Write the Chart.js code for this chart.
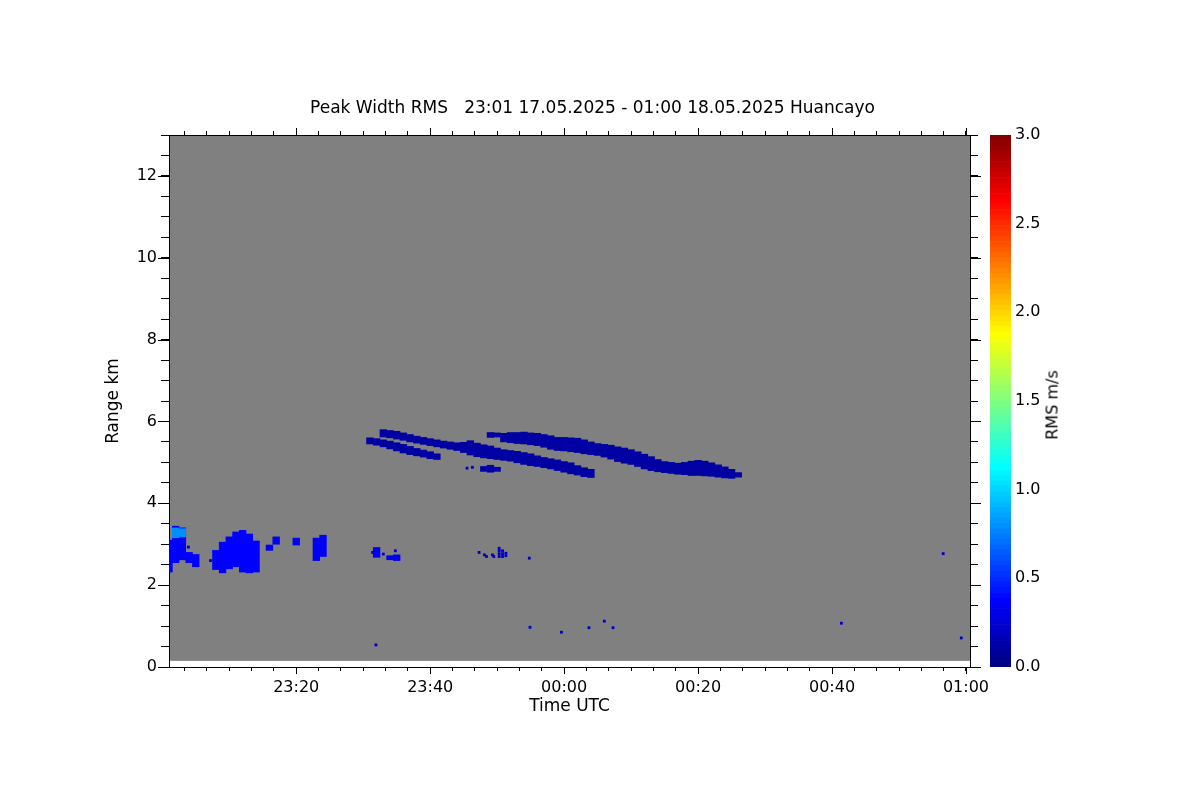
<!DOCTYPE html>
<html>
<head>
<meta charset="utf-8">
<script src="https://cdn.jsdelivr.net/npm/chart.js@4.4.1/dist/chart.umd.min.js"></script>
<style>
html,body{margin:0;padding:0;background:#fff;}
#wrap{position:relative;width:1200px;height:800px;overflow:hidden;}
#wrap canvas{position:absolute;left:0;top:0;}
#cbTitle{position:absolute;left:1052px;top:405px;transform:translate(-50%,-50%) rotate(-90deg);font:16px "DejaVu Sans",sans-serif;white-space:nowrap;color:#000;}
</style>
</head>
<body>
<div id="wrap">
  <canvas id="main" width="1200" height="800"></canvas>
  <canvas id="cbar" width="1200" height="800"></canvas>
  <div id="cbTitle">RMS m/s</div>
</div>
<script>
// ---------------- text & ticks ----------------
const titleText = 'Peak Width RMS   23:01 17.05.2025 - 01:00 18.05.2025 Huancayo';
const xTitle = 'Time UTC';
const yTitle = 'Range km';
const timeTickMinutes = [20, 40, 60, 80, 100, 120];          // minutes after 23:00 UTC
const timeTickLabels  = ['23:20', '23:40', '00:00', '00:20', '00:40', '01:00'];
const rangeTickKm     = [0, 2, 4, 6, 8, 10, 12];
const rangeTickLabels = ['0', '2', '4', '6', '8', '10', '12'];
const rmsTickValues   = [0, 0.5, 1, 1.5, 2, 2.5, 3];
const rmsTickLabels   = ['0.0', '0.5', '1.0', '1.5', '2.0', '2.5', '3.0'];

// extent of the measured area (minutes after 23:00, km)
const dataStartMin = 1, dataEndMin = 120.6;
const rangeBottomKm = 0.15, rangeTopKm = 13;

// ---------------- echoes: [minute after 23:00 UTC, bottom km, top km] ----------------
const echoF = [[1,2.32,3.10],[2,2.55,3.44],[3,2.62,3.40],[4,2.55,2.80],[5,2.45,2.75]];
const echoFcore = [[2,3.16,3.40],[3,3.18,3.38]];
const echoG = [[8,2.38,2.85],[9,2.30,3.05],[10,2.40,3.18],[11,2.45,3.30],[12,2.32,3.34],[13,2.30,3.25],[14,2.32,3.08]];
const echoLowSmall = [[16,2.85,2.98],[17,3.00,3.18],[20,2.98,3.15],[23,2.60,3.15],[24,2.70,3.22],[32,2.68,2.92],[34,2.62,2.72],[35,2.60,2.74]];
const streakUpper = [[33,5.62,5.80],[34,5.60,5.78],[35,5.57,5.76],[36,5.54,5.72],[37,5.50,5.68],[38,5.47,5.64],
  [39,5.44,5.61],[40,5.41,5.58],[41,5.38,5.55],[42,5.35,5.52],[43,5.32,5.50],[44,5.29,5.48],[45,5.24,5.49],
  [46,5.18,5.53],[47,5.14,5.47],[48,5.11,5.43],[49,5.09,5.40],[50,5.07,5.35],[51,5.05,5.31],[52,5.03,5.29],
  [53,4.99,5.27],[54,4.95,5.24],[55,4.92,5.21],[56,4.90,5.16],[57,4.87,5.12],[58,4.84,5.09],[59,4.80,5.06],
  [60,4.76,5.02],[61,4.72,4.99],[62,4.69,4.92],[63,4.65,4.87],[64,4.63,4.83]];
const streakLower = [[31,5.45,5.60],[32,5.42,5.58],[33,5.38,5.55],[34,5.33,5.52],[35,5.28,5.48],[36,5.23,5.44],
  [37,5.19,5.39],[38,5.16,5.34],[39,5.13,5.30],[40,5.09,5.26],[41,5.07,5.21]];
const streakLong = [[49,5.61,5.73],[50,5.62,5.72],[51,5.50,5.71],[52,5.48,5.73],[53,5.46,5.73],[54,5.45,5.74],
  [55,5.43,5.72],[56,5.41,5.71],[57,5.37,5.68],[58,5.32,5.65],[59,5.29,5.61],[60,5.28,5.61],[61,5.26,5.60],
  [62,5.24,5.59],[63,5.21,5.55],[64,5.19,5.50],[65,5.17,5.46],[66,5.13,5.44],[67,5.08,5.42],[68,5.02,5.38],
  [69,4.98,5.35],[70,4.95,5.31],[71,4.90,5.26],[72,4.84,5.20],[73,4.80,5.14],[74,4.77,5.07],[75,4.75,5.02],
  [76,4.73,5.00],[77,4.71,4.98],[78,4.70,5.00],[79,4.68,5.03],[80,4.68,5.05],[81,4.67,5.03],[82,4.66,4.99],
  [83,4.64,4.94],[84,4.62,4.89],[85,4.61,4.83],[86,4.64,4.75]];
const echoE = [[48,4.78,4.90],[49,4.76,4.93],[50,4.78,4.88]];
// isolated speckles: [minute, km]
const speckles = [[3.9,2.93],[7.2,2.60],[31.4,2.80],[33.0,2.76],[34.8,2.84],[45.5,4.86],[46.3,4.88],
  [47.3,2.80],[48.1,2.74],[48.4,2.70],[49.3,2.74],[49.5,2.70],[50.3,2.70],[50.3,2.77],[50.3,2.84],[50.3,2.90],
  [50.8,2.70],[50.8,2.77],[50.8,2.84],[51.3,2.72],[51.3,2.78],[54.8,2.66],[31.9,0.54],[54.9,0.97],[59.6,0.85],
  [63.7,0.96],[66.0,1.12],[67.3,0.96],[101.4,1.07],[116.6,2.77],[119.3,0.71]];

// RMS values (m/s) of each feature
const rmsF = 0.36, rmsFcore = 0.80, rmsG = 0.36, rmsLowSmall = 0.34;
const rmsStreaks = 0.10, rmsE = 0.12, rmsSpeckles = 0.18;

// ---------------- colour map (jet, 100 levels over 0..3 m/s) ----------------
const rmsMin = 0, rmsMax = 3, nLevels = 100;
function jet(t) {
  const c = v => Math.max(0, Math.min(1, v));
  const r = c(Math.min(4*t - 1.5, -4*t + 4.5));
  const g = c(Math.min(4*t - 0.5, -4*t + 3.5));
  const b = c(Math.min(4*t + 0.5, -4*t + 2.5));
  return `rgb(${Math.round(r*255)},${Math.round(g*255)},${Math.round(b*255)})`;
}
function rmsColor(v) {
  const lvl = Math.max(0, Math.min(nLevels - 1, Math.floor((v - rmsMin) / (rmsMax - rmsMin) * nLevels)));
  return jet((lvl + 0.5) / nLevels);
}

Chart.defaults.font.family = '"DejaVu Sans", sans-serif';
Chart.defaults.color = '#000';

function barSet(label, cols, rms, order) {
  return {
    type: 'bar', label, order,
    data: cols.map(c => ({x: c[0], y: [c[1], c[2]]})),
    backgroundColor: rmsColor(rms), borderWidth: 0,
    grouped: false, barPercentage: 1, categoryPercentage: 1
  };
}

const xMinorTicks = [];
for (let k = 1; k <= 36; k++) xMinorTicks.push(k * 10 / 3);

function timeLabel(v) {
  const i = timeTickMinutes.findIndex(m => Math.abs(m - v) < 1e-6);
  return i >= 0 ? timeTickLabels[i] : '';
}
function rangeLabel(v) {
  const i = rangeTickKm.findIndex(m => Math.abs(m - v) < 1e-6);
  return i >= 0 ? rangeTickLabels[i] : '';
}

const grid = {drawOnChartArea: false, color: '#000', tickColor: '#000', lineWidth: 1};
const border = {display: true, color: '#000', width: 1};
const xMinorLen = 4, xMajorLen = 7, yMinorLen = 8, yMajorLen = 11;

const backgroundPlugin = {
  id: 'measuredArea',
  beforeDraw(chart) {
    const {ctx, scales: {x, y}} = chart;
    const l = x.getPixelForValue(dataStartMin), r = x.getPixelForValue(dataEndMin);
    const t = y.getPixelForValue(rangeTopKm), b = y.getPixelForValue(rangeBottomKm);
    ctx.save();
    ctx.fillStyle = '#808080';
    ctx.fillRect(l, t, r - l, b - t);
    ctx.restore();
  }
};

// longer tick marks at the labelled (major) positions, on all four sides
const majorTickPlugin = {
  id: 'majorTicks',
  afterDraw(chart) {
    const {ctx, chartArea: a, scales: {x, y}} = chart;
    ctx.save();
    ctx.strokeStyle = '#000';
    ctx.lineWidth = 1;
    ctx.beginPath();
    timeTickMinutes.forEach(m => {
      const px = Math.round(x.getPixelForValue(m)) + 0.5;
      ctx.moveTo(px, a.bottom); ctx.lineTo(px, a.bottom + xMajorLen);
      ctx.moveTo(px, a.top); ctx.lineTo(px, a.top - xMajorLen);
    });
    rangeTickKm.forEach(k => {
      const py = Math.round(y.getPixelForValue(k)) + 0.5;
      ctx.moveTo(a.left, py); ctx.lineTo(a.left - yMajorLen, py);
      ctx.moveTo(a.right, py); ctx.lineTo(a.right + yMajorLen, py);
    });
    ctx.stroke();
    ctx.restore();
  }
};

new Chart(document.getElementById('main'), {
  type: 'bar',
  data: {
    datasets: [
      barSet('F core', echoFcore, rmsFcore, 0),
      barSet('F', echoF, rmsF, 1),
      barSet('G', echoG, rmsG, 1),
      barSet('low small', echoLowSmall, rmsLowSmall, 1),
      barSet('upper streak', streakUpper, rmsStreaks, 1),
      barSet('lower streak', streakLower, rmsStreaks, 1),
      barSet('long streak', streakLong, rmsStreaks, 1),
      barSet('E', echoE, rmsE, 1),
      {type: 'scatter', label: 'speckles', order: 1,
       data: speckles.map(p => ({x: p[0], y: p[1]})),
       pointStyle: 'rect', pointRadius: 2, pointBorderWidth: 0, borderWidth: 0,
       backgroundColor: rmsColor(rmsSpeckles), showLine: false}
    ]
  },
  options: {
    responsive: false, animation: false, events: [], devicePixelRatio: 1,
    layout: {padding: {left: 0, right: 15, top: 0, bottom: 0}},
    plugins: {
      legend: {display: false}, tooltip: {enabled: false},
      title: {display: true, text: titleText, color: '#000',
              font: {size: 17, weight: 'normal'}, padding: {top: 98, bottom: 0}}
    },
    scales: {
      x: {type: 'linear', position: 'bottom', min: dataStartMin, max: dataEndMin, bounds: 'data', offset: false,
          afterBuildTicks: s => { s.ticks = xMinorTicks.map(v => ({value: v})); },
          ticks: {autoSkip: false, maxRotation: 0, padding: 7, font: {size: 16}, color: '#000', callback: v => timeLabel(v)},
          grid: {...grid, tickLength: xMinorLen, offset: false}, border,
          title: {display: true, text: xTitle, color: '#000', font: {size: 17}, padding: {top: 0, bottom: 82.8}},
          afterFit: s => { s.height = 133; }},
      x2: {type: 'linear', position: 'top', min: dataStartMin, max: dataEndMin, bounds: 'data', offset: false,
          afterBuildTicks: s => { s.ticks = xMinorTicks.map(v => ({value: v})); },
          ticks: {display: false, autoSkip: false},
          grid: {...grid, tickLength: xMinorLen, offset: false}, border,
          afterFit: s => { s.height = 16.6; }},
      y: {type: 'linear', position: 'left', min: 0, max: rangeTopKm, bounds: 'data', stacked: false,
          ticks: {stepSize: 0.5, autoSkip: false, padding: 4, font: {size: 16}, color: '#000', callback: v => rangeLabel(v)},
          grid: {...grid, tickLength: yMinorLen}, border,
          title: {display: true, text: yTitle, color: '#000', font: {size: 17}, padding: {top: 103.8, bottom: 0}},
          afterFit: s => { s.width = 169; }},
      y2: {type: 'linear', position: 'right', min: 0, max: rangeTopKm, bounds: 'data',
          ticks: {display: false, stepSize: 0.5, autoSkip: false},
          grid: {...grid, tickLength: yMinorLen}, border,
          afterFit: s => { s.width = 215; }}
    }
  },
  plugins: [backgroundPlugin, majorTickPlugin]
});

// ---------------- colour bar ----------------
const cbDatasets = [];
for (let i = 0; i < nLevels; i++) {
  const lo = rmsMin + (rmsMax - rmsMin) * i / nLevels;
  const hi = rmsMin + (rmsMax - rmsMin) * (i + 1) / nLevels;
  cbDatasets.push({data: [[lo, hi]], backgroundColor: jet((i + 0.5) / nLevels), borderWidth: 0,
                   grouped: false, barPercentage: 1, categoryPercentage: 1});
}
new Chart(document.getElementById('cbar'), {
  type: 'bar',
  data: {labels: ['rms'], datasets: cbDatasets},
  options: {
    responsive: false, animation: false, events: [], devicePixelRatio: 1,
    layout: {padding: {left: 990, right: 129, top: 135, bottom: 133}},
    plugins: {legend: {display: false}, tooltip: {enabled: false}},
    scales: {
      x: {display: false},
      y: {type: 'linear', position: 'right', min: rmsMin, max: rmsMax, bounds: 'data', stacked: false,
          afterBuildTicks: s => { s.ticks = rmsTickValues.map(v => ({value: v})); },
          ticks: {padding: 4, font: {size: 16}, color: '#000',
                  callback: v => { const i = rmsTickValues.findIndex(m => Math.abs(m - v) < 1e-6); return i >= 0 ? rmsTickLabels[i] : ''; }},
          grid: {display: false, drawTicks: false}, border: {display: false},
          afterFit: s => { s.width = 60; }}
    }
  }
});
</script>
</body>
</html>
